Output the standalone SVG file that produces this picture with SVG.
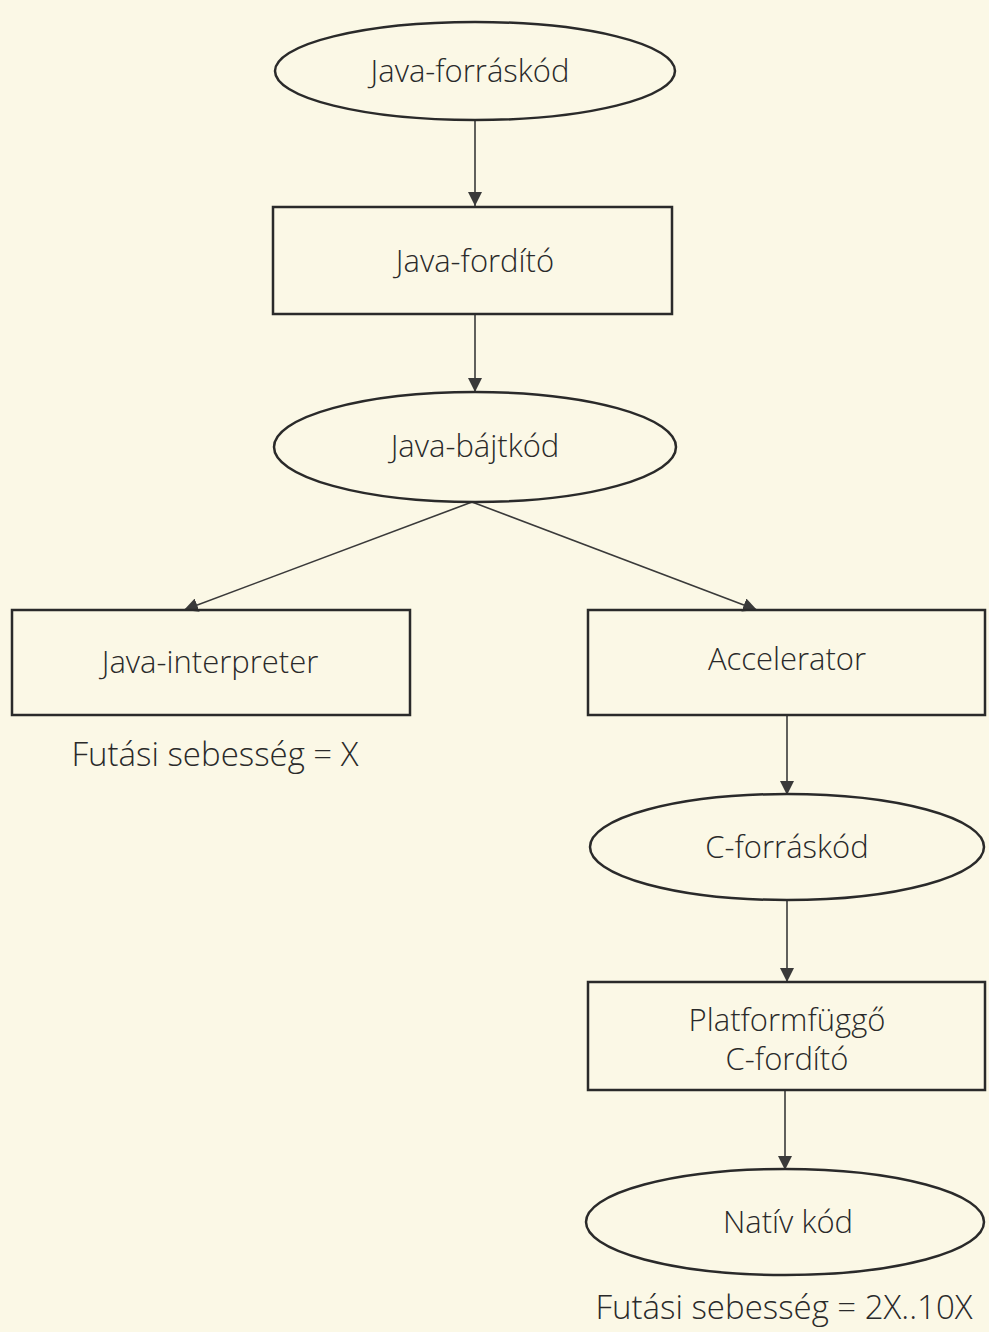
<svg xmlns="http://www.w3.org/2000/svg" width="989" height="1332" viewBox="0 0 989 1332">
<defs>
<marker id="arr" viewBox="0 0 10 10" refX="10" refY="5" markerWidth="14" markerHeight="14" markerUnits="userSpaceOnUse" orient="auto">
<path d="M0,0 L10,5 L0,10 z" fill="#3a3a3a"/>
</marker>
<style>
.shape{fill:none;stroke:#2a2a2a;stroke-width:2.5}
.conn{stroke:#3a3a3a;stroke-width:1.6;fill:none}
.t{font-family:"Open Sans","Noto Sans","Liberation Sans",sans-serif;font-size:31px;font-weight:300;fill:#2a2a2a;text-anchor:middle}
.l{font-size:33px}
</style>
</defs>
<rect width="989" height="1332" fill="#fbf8e6"/>
<g id="connectors">
<line class="conn" x1="475" y1="120" x2="475" y2="206" marker-end="url(#arr)"/>
<line class="conn" x1="475" y1="314" x2="475" y2="392" marker-end="url(#arr)"/>
<line class="conn" x1="472" y1="502" x2="184" y2="610" marker-end="url(#arr)"/>
<line class="conn" x1="472" y1="502" x2="757" y2="610" marker-end="url(#arr)"/>
<line class="conn" x1="787" y1="715" x2="787" y2="795" marker-end="url(#arr)"/>
<line class="conn" x1="787" y1="900" x2="787" y2="982" marker-end="url(#arr)"/>
<line class="conn" x1="785" y1="1090" x2="785" y2="1170" marker-end="url(#arr)"/>
</g>
<g id="n1"><ellipse class="shape" cx="475" cy="71" rx="200" ry="49"/><text class="t" x="470" y="82">Java-forráskód</text></g>
<g id="n2"><rect class="shape" x="273" y="207" width="399" height="107"/><text class="t" x="475" y="272">Java-fordító</text></g>
<g id="n3"><ellipse class="shape" cx="475" cy="447" rx="201" ry="55"/><text class="t" x="475" y="457">Java-bájtkód</text></g>
<g id="n4"><rect class="shape" x="12" y="610" width="398" height="105"/><text class="t" x="210" y="673">Java-interpreter</text></g>
<g id="n5"><rect class="shape" x="588" y="610" width="397" height="105"/><text class="t" x="787" y="670">Accelerator</text></g>
<g id="lbl1"><text class="t l" x="215" y="766">Futási sebesség = X</text></g>
<g id="n6"><ellipse class="shape" cx="787" cy="847" rx="197" ry="53"/><text class="t" x="787" y="858">C-forráskód</text></g>
<g id="n7"><rect class="shape" x="588" y="982" width="397" height="108"/><text class="t" x="787" y="1031">Platformfüggő</text><text class="t" x="787" y="1070">C-fordító</text></g>
<g id="n8"><ellipse class="shape" cx="785" cy="1222" rx="199" ry="53"/><text class="t" x="788" y="1233">Natív kód</text></g>
<g id="lbl2"><text class="t l" x="784" y="1319">Futási sebesség = 2X..10X</text></g>
</svg>
